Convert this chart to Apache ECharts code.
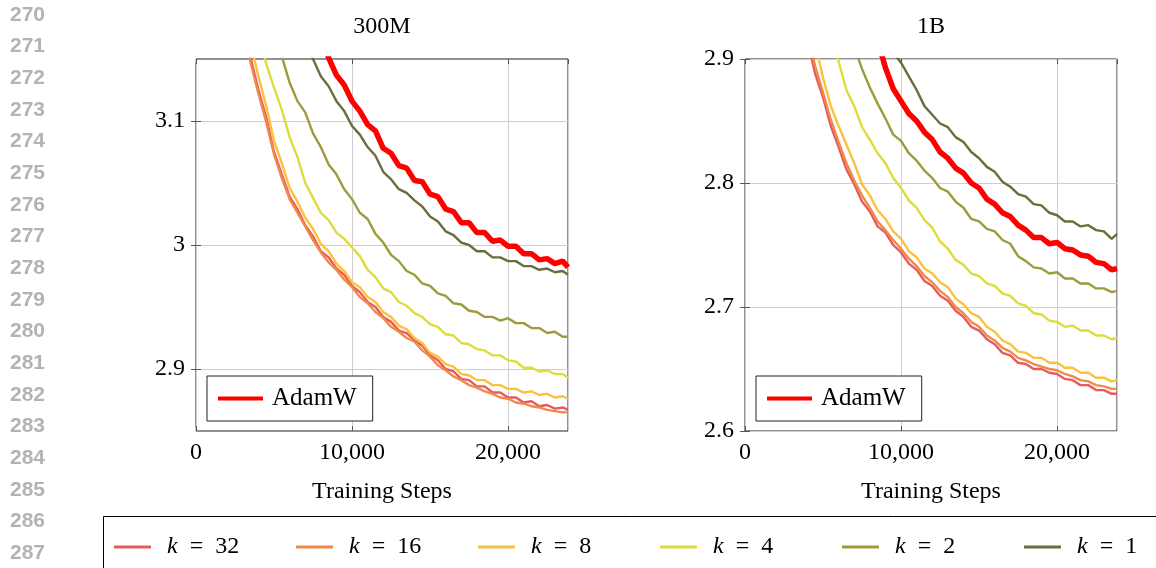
<!DOCTYPE html>
<html><head><meta charset="utf-8">
<script src="https://cdn.jsdelivr.net/npm/echarts@6/dist/echarts.min.js"></script>
<style>html,body{margin:0;padding:0;background:#fff}#c{width:1156px;height:568px}</style>
</head><body><div id="c"></div><script>
// ---------------- DATA ----------------
const steps = [2000,2500,3000,3500,4000,4500,5000,5500,6000,6500,7000,7500,8000,8500,9000,9500,10000,10500,11000,11500,12000,12500,13000,13500,14000,14500,15000,15500,16000,16500,17000,17500,18000,18500,19000,19500,20000,20500,21000,21500,22000,22500,23000,23500,23840];
const seriesNames = ['k = 32','k = 16','k = 8','k = 4','k = 2','k = 1'];
const panelTitles = ['300M','1B'];
const xTitle = 'Training Steps';
const lineNumbers = [270,271,272,273,274,275,276,277,278,279,280,281,282,283,284,285,286,287];
const yTicks300M = [2.9, 3.0, 3.1];
const yTicks1B = [2.6, 2.7, 2.8, 2.9];

// 300M
const m300_k32 = [3.300,3.240,3.190,3.151,3.125,3.103,3.075,3.057,3.039,3.029,3.016,3.007,2.995,2.990,2.981,2.976,2.967,2.962,2.954,2.950,2.942,2.938,2.931,2.929,2.923,2.919,2.911,2.907,2.900,2.898,2.892,2.891,2.886,2.886,2.881,2.881,2.877,2.877,2.873,2.874,2.870,2.871,2.868,2.869,2.867];
const m300_k16 = [3.290,3.232,3.184,3.147,3.122,3.099,3.073,3.054,3.037,3.026,3.015,3.004,2.994,2.986,2.980,2.972,2.966,2.958,2.953,2.946,2.941,2.934,2.930,2.925,2.922,2.915,2.910,2.903,2.899,2.894,2.891,2.887,2.885,2.882,2.880,2.877,2.876,2.873,2.872,2.870,2.869,2.867,2.866,2.865,2.865];
const m300_k8 = [3.320,3.260,3.210,3.163,3.136,3.112,3.084,3.066,3.046,3.035,3.022,3.013,3.001,2.995,2.985,2.979,2.970,2.966,2.958,2.954,2.946,2.942,2.935,2.932,2.925,2.921,2.913,2.910,2.904,2.902,2.896,2.895,2.891,2.891,2.887,2.887,2.884,2.884,2.881,2.882,2.879,2.880,2.877,2.878,2.876];
const m300_k4 = [3.450,3.360,3.290,3.220,3.172,3.146,3.127,3.109,3.087,3.071,3.050,3.038,3.026,3.020,3.010,3.005,2.998,2.991,2.980,2.974,2.965,2.962,2.954,2.951,2.945,2.942,2.936,2.934,2.928,2.927,2.921,2.920,2.916,2.915,2.911,2.911,2.907,2.906,2.901,2.901,2.898,2.899,2.896,2.896,2.893];
const m300_k2 = [3.550,3.460,3.380,3.320,3.270,3.220,3.180,3.152,3.131,3.116,3.107,3.090,3.079,3.065,3.057,3.045,3.037,3.026,3.021,3.009,3.002,2.992,2.987,2.979,2.976,2.969,2.967,2.961,2.959,2.953,2.952,2.947,2.946,2.942,2.942,2.939,2.941,2.937,2.937,2.933,2.933,2.929,2.930,2.926,2.926];
const m300_k1 = [3.750,3.640,3.550,3.470,3.400,3.340,3.290,3.250,3.220,3.190,3.166,3.150,3.136,3.128,3.116,3.108,3.096,3.089,3.079,3.072,3.059,3.053,3.045,3.042,3.036,3.031,3.023,3.019,3.011,3.008,3.002,3.000,2.995,2.995,2.990,2.990,2.987,2.987,2.983,2.983,2.980,2.981,2.978,2.979,2.976];
const m300_adamw = [3.900,3.780,3.670,3.580,3.500,3.430,3.370,3.320,3.280,3.245,3.215,3.190,3.168,3.151,3.137,3.129,3.116,3.108,3.097,3.092,3.078,3.074,3.064,3.062,3.052,3.051,3.041,3.039,3.029,3.027,3.018,3.018,3.010,3.010,3.003,3.004,2.999,2.999,2.993,2.993,2.988,2.989,2.985,2.987,2.982];

// 1B
const b1_k32 = [3.100,3.040,2.990,2.950,2.915,2.888,2.869,2.846,2.829,2.811,2.799,2.785,2.777,2.765,2.760,2.750,2.744,2.735,2.730,2.721,2.717,2.709,2.705,2.697,2.692,2.684,2.681,2.674,2.670,2.663,2.661,2.655,2.654,2.650,2.650,2.647,2.646,2.642,2.641,2.637,2.637,2.633,2.633,2.630,2.630];
const b1_k16 = [3.110,3.050,3.000,2.958,2.922,2.894,2.873,2.851,2.833,2.816,2.802,2.790,2.780,2.769,2.762,2.754,2.747,2.739,2.733,2.725,2.720,2.713,2.708,2.700,2.695,2.688,2.684,2.677,2.673,2.667,2.664,2.659,2.657,2.654,2.652,2.650,2.649,2.646,2.644,2.641,2.640,2.637,2.636,2.634,2.634];
const b1_k8 = [3.140,3.080,3.030,2.985,2.945,2.912,2.885,2.862,2.846,2.831,2.816,2.799,2.790,2.778,2.771,2.761,2.755,2.745,2.740,2.731,2.727,2.720,2.716,2.707,2.702,2.695,2.692,2.684,2.680,2.673,2.670,2.664,2.663,2.659,2.659,2.655,2.655,2.651,2.651,2.647,2.647,2.643,2.643,2.640,2.641];
const b1_k4 = [3.300,3.220,3.150,3.090,3.040,2.990,2.950,2.915,2.898,2.875,2.862,2.845,2.835,2.824,2.816,2.804,2.796,2.786,2.780,2.770,2.764,2.753,2.747,2.738,2.734,2.727,2.725,2.719,2.717,2.711,2.709,2.703,2.701,2.695,2.694,2.689,2.688,2.684,2.685,2.681,2.681,2.677,2.677,2.674,2.675];
const b1_k2 = [3.400,3.320,3.250,3.180,3.120,3.070,3.030,2.995,2.960,2.935,2.910,2.892,2.877,2.864,2.852,2.839,2.834,2.824,2.818,2.810,2.804,2.796,2.793,2.785,2.780,2.771,2.769,2.763,2.761,2.754,2.751,2.741,2.737,2.732,2.731,2.727,2.728,2.723,2.723,2.719,2.719,2.715,2.715,2.712,2.713];
const b1_k1 = [3.600,3.500,3.420,3.340,3.270,3.210,3.160,3.110,3.070,3.035,3.005,2.980,2.955,2.935,2.917,2.905,2.897,2.886,2.875,2.862,2.855,2.848,2.845,2.837,2.833,2.825,2.820,2.813,2.809,2.801,2.797,2.791,2.789,2.783,2.782,2.776,2.774,2.769,2.769,2.765,2.766,2.762,2.761,2.755,2.759];
const b1_adamw = [3.700,3.580,3.480,3.390,3.310,3.240,3.180,3.130,3.080,3.040,3.005,2.975,2.945,2.915,2.893,2.876,2.866,2.856,2.850,2.841,2.835,2.825,2.820,2.812,2.808,2.800,2.796,2.787,2.783,2.776,2.773,2.766,2.762,2.756,2.756,2.751,2.752,2.747,2.746,2.742,2.741,2.736,2.735,2.730,2.731];

// ---------------- STYLE ----------------
const FONT = '"Liberation Serif", "Times New Roman", serif';
const kColors = ['#e85a5c','#f08a4c','#fbc23e','#dedc3c','#9d9b3b','#6d6c3d'];
const adamColor = '#ff0000';
const gridL = [196, 745], gridTop = 59, gridW = 372, gridH = 372;

const chart = echarts.init(document.getElementById('c'), null, {renderer: 'canvas'});
const fmtThousands = v => String(v).replace(/\B(?=(\d{3})+(?!\d))/g, ',');

function line(name, vals, g, color, width) {
  return {
    name, type: 'line', xAxisIndex: g * 2, yAxisIndex: g * 2,
    data: steps.map((s, i) => [s, vals[i]]),
    showSymbol: false, symbol: 'none', clip: true, silent: true,
    lineStyle: {color, width}, itemStyle: {color},
    emphasis: {disabled: true}, animation: false
  };
}
function tickStyle(custom) {
  const t = {show: true, inside: true, length: 5, lineStyle: {color: '#555', width: 1}};
  if (custom) t.customValues = custom;
  return t;
}
function xAxes(g) {
  return [{
    type: 'value', gridIndex: g, position: 'bottom', min: 0, max: 23840, interval: 10000,
    axisLine: {show: false}, axisTick: tickStyle(),
    splitLine: {show: true, lineStyle: {color: '#cfcfcf', width: 1}},
    axisLabel: {showMaxLabel: false, margin: 10, fontFamily: FONT, fontSize: 24, color: '#000', formatter: fmtThousands},
    name: xTitle, nameLocation: 'middle', nameGap: 49,
    nameTextStyle: {fontFamily: FONT, fontSize: 24, color: '#000'}
  }, {
    type: 'value', gridIndex: g, position: 'top', min: 0, max: 23840, interval: 10000,
    axisLine: {show: false}, axisTick: tickStyle(), axisLabel: {show: false}, splitLine: {show: false}
  }];
}
function yAxes(g, mn, mx, ticks) {
  return [{
    type: 'value', gridIndex: g, position: 'left', min: mn, max: mx,
    axisLine: {show: false}, axisTick: tickStyle(ticks),
    splitLine: {show: true, lineStyle: {color: '#cfcfcf', width: 1}},
    axisLabel: {customValues: ticks, margin: 11, fontFamily: FONT, fontSize: 24, color: '#000'}
  }, {
    type: 'value', gridIndex: g, position: 'right', min: mn, max: mx,
    axisLine: {show: false}, axisTick: tickStyle(ticks), axisLabel: {show: false}, splitLine: {show: false}
  }];
}

const panels = [
  [m300_adamw, m300_k32, m300_k16, m300_k8, m300_k4, m300_k2, m300_k1],
  [b1_adamw, b1_k32, b1_k16, b1_k8, b1_k4, b1_k2, b1_k1]
];
const series = [];
panels.forEach((p, g) => {
  series.push(line('AdamW', p[0], g, adamColor, 5.5));
  for (let i = 0; i < 6; i++) series.push(line(seriesNames[i], p[i + 1], g, kColors[i], 2.4));
});

const adamLegend = g => ({
  data: ['AdamW'], left: gridL[g] + 11, top: 376, orient: 'horizontal',
  padding: [10, 16, 10, 11], borderColor: '#222', borderWidth: 1, backgroundColor: '#fff',
  itemWidth: 45, itemHeight: 4, icon: 'rect', selectedMode: false,
  textStyle: {fontFamily: FONT, fontSize: 25, color: '#000', padding: [0, 0, 0, 4]}
});
const kLegend = i => ({
  data: [seriesNames[i]], left: 114 + 182 * i, top: 535, orient: 'horizontal', padding: 0,
  itemWidth: 37, itemHeight: 3, icon: 'rect', selectedMode: false,
  formatter: n => '{i|k}\u2002=\u2002' + n.split('= ')[1],
  textStyle: {fontFamily: FONT, fontSize: 24, color: '#000', padding: [0, 0, 0, 11],
    rich: {i: {fontStyle: 'italic', fontFamily: FONT, fontSize: 24, color: '#000'}}}
});

const graphics = [];
lineNumbers.forEach((n, i) => graphics.push({
  type: 'text', x: 45, y: 15 + i * 31.65, silent: true,
  style: {text: String(n), font: 'bold 21px "Liberation Sans", Arial, sans-serif', fill: '#b3b3b3', textAlign: 'right', textVerticalAlign: 'middle'}
}));
panelTitles.forEach((t, g) => graphics.push({
  type: 'text', x: gridL[g] + gridW / 2, y: 27, silent: true,
  style: {text: t, font: '24px ' + FONT, fill: '#000', textAlign: 'center', textVerticalAlign: 'middle'}
}));
graphics.push({
  type: 'rect', silent: true, z: -1,
  shape: {x: 103.5, y: 516.5, width: 1100, height: 100},
  style: {fill: 'none', stroke: '#000', lineWidth: 1}
});
// mask stray boundary marks just outside the left panel's frame corners
[gridTop - 4, gridTop + gridH - 4].forEach(y => graphics.push({
  type: 'rect', silent: true, z: 100,
  shape: {x: gridL[0] - 9, y: y, width: 8.5, height: 8},
  style: {fill: '#fff'}
}));

chart.setOption({
  animation: false,
  backgroundColor: '#fff',
  grid: gridL.map(l => ({left: l, top: gridTop, width: gridW, height: gridH, show: true, borderColor: '#222', borderWidth: 1, backgroundColor: 'transparent'})),
  xAxis: [...xAxes(0), ...xAxes(1)],
  yAxis: [...yAxes(0, 2.85, 3.15, yTicks300M), ...yAxes(1, 2.6, 2.9, yTicks1B)],
  legend: [0, 1, 2, 3, 4, 5].map(kLegend).concat([adamLegend(0), adamLegend(1)]),
  graphic: graphics,
  series
});
</script></body></html>
